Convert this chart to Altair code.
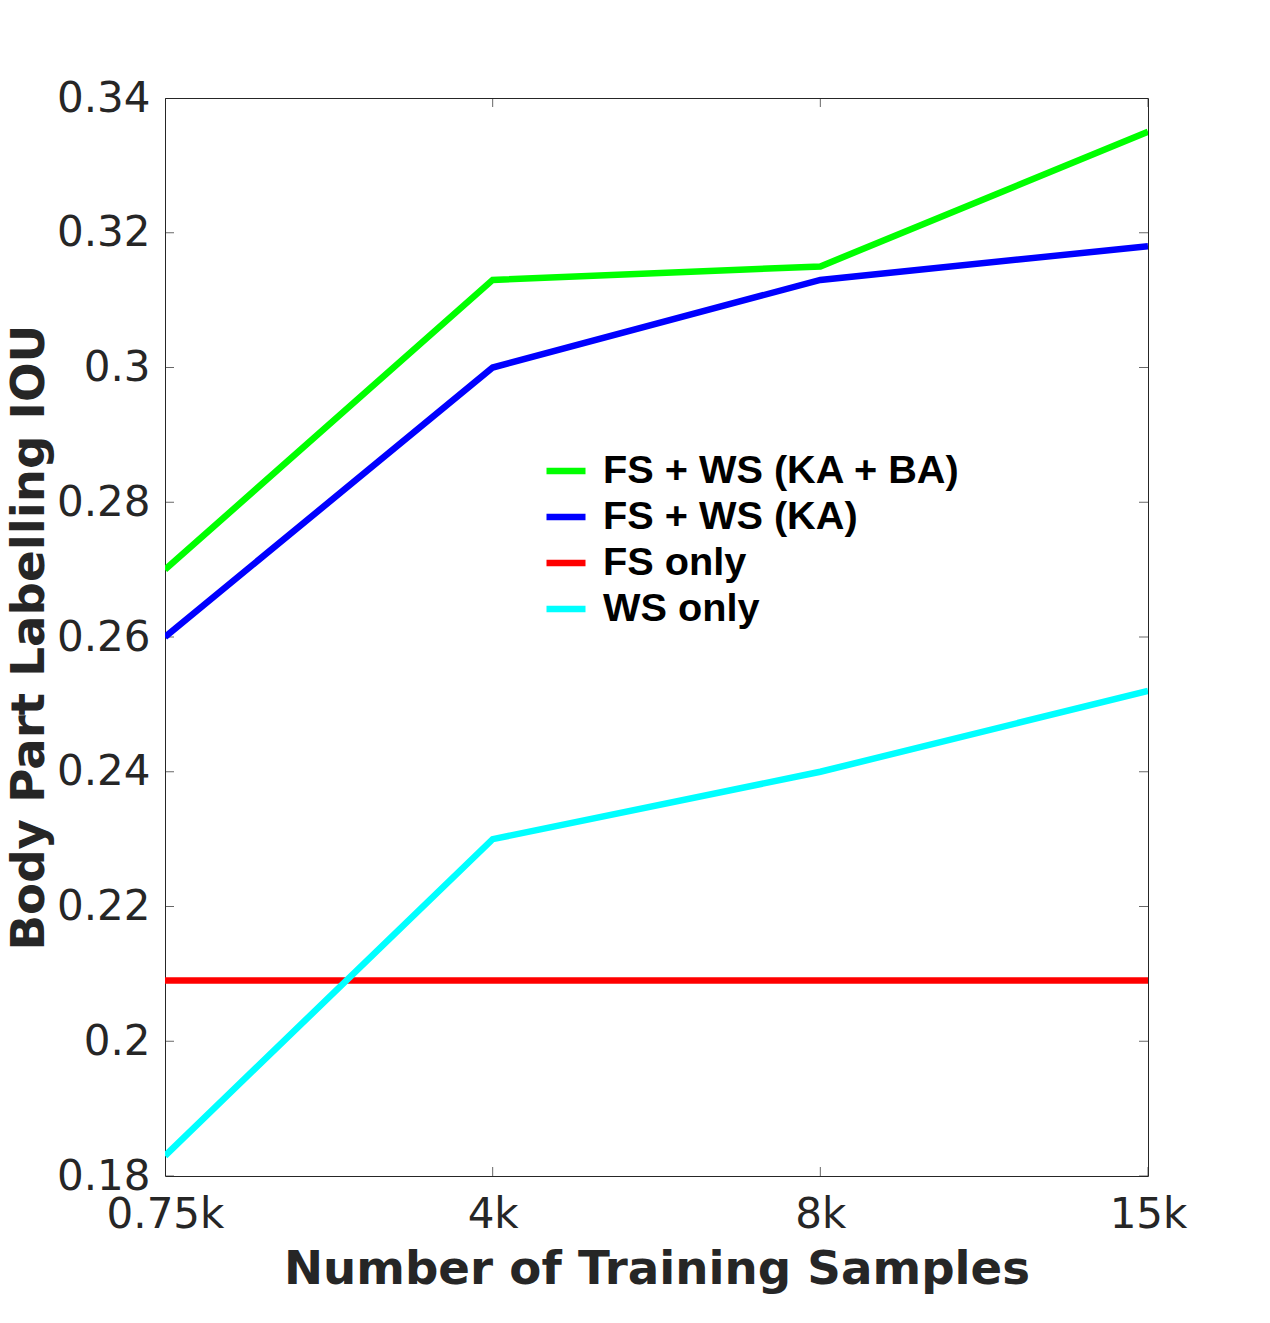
import altair as alt
import pandas as pd

x_labels = ["0.75k", "4k", "8k", "15k"]
series_names = ["FS + WS (KA + BA)", "FS + WS (KA)", "FS only", "WS only"]
series_colors = ["#00ff00", "#0000ff", "#ff0000", "#00ffff"]
ka_ba = [0.270, 0.313, 0.315, 0.335]
ka = [0.260, 0.300, 0.313, 0.318]
fs_only = [0.209, 0.209, 0.209, 0.209]
ws_only = [0.183, 0.230, 0.240, 0.252]
y_ticks = [0.18, 0.20, 0.22, 0.24, 0.26, 0.28, 0.30, 0.32, 0.34]

rows = []
for name, vals in zip(series_names, [ka_ba, ka, fs_only, ws_only]):
    for i, (x, v) in enumerate(zip(x_labels, vals)):
        rows.append({"x": x, "y": v, "series": name, "order": i})
df = pd.DataFrame(rows)

side_ticks = pd.DataFrame(
    [{"x": x_labels[0], "y": v} for v in y_ticks] + [{"x": x_labels[-1], "y": v} for v in y_ticks]
)
tb_ticks = pd.DataFrame(
    [{"x": x, "y": y_ticks[0]} for x in x_labels] + [{"x": x, "y": y_ticks[-1]} for x in x_labels]
)

AX = "#262626"
xscale = alt.Scale(type="point", domain=x_labels, padding=0)
yscale = alt.Scale(domain=[0.18, 0.34], nice=False, zero=False)

xaxis = alt.Axis(
    title="Number of Training Samples", labelAngle=0, labelAlign="center", labelBaseline="top",
    ticks=False, domain=False, grid=False,
    labelFont="DejaVu Sans", labelFontSize=42, labelColor=AX, labelPadding=18,
    titleFont="DejaVu Sans", titleFontSize=46.7, titleFontWeight="bold", titleColor=AX,
    titlePadding=11, labelOverlap=False,
)
yaxis = alt.Axis(
    title="Body Part Labelling IOU", values=y_ticks, labelExpr="format(datum.value, '.2~f')",
    ticks=False, domain=False, grid=False,
    labelFont="DejaVu Sans", labelFontSize=42, labelColor=AX, labelPadding=15,
    titleFont="DejaVu Sans", titleFontSize=46.7, titleFontWeight="bold", titleColor=AX,
    titlePadding=3, labelOverlap=False,
)

lines = alt.Chart(df).mark_line(strokeWidth=6.5, clip=True).encode(
    x=alt.X("x:N", scale=xscale, sort=x_labels, axis=xaxis),
    y=alt.Y("y:Q", scale=yscale, axis=yaxis),
    color=alt.Color(
        "series:N",
        scale=alt.Scale(domain=series_names, range=series_colors),
        legend=alt.Legend(
            title=None, orient="none", legendX=378, legendY=350,
            symbolType="stroke", symbolStrokeWidth=6.5, symbolSize=1521,
            labelFont="Liberation Sans", labelFontSize=39.7, labelFontWeight="bold",
            labelColor="black", labelOffset=14, rowPadding=3, labelLimit=600,
        ),
    ),
    order="order:Q",
)

side = alt.Chart(side_ticks).mark_tick(
    orient="horizontal", size=18, thickness=1, color=AX, clip=True
).encode(
    x=alt.X("x:N", scale=xscale, sort=x_labels),
    y=alt.Y("y:Q", scale=yscale),
)

tb = alt.Chart(tb_ticks).mark_tick(
    orient="vertical", size=18, thickness=1, color=AX, clip=True
).encode(
    x=alt.X("x:N", scale=xscale, sort=x_labels),
    y=alt.Y("y:Q", scale=yscale),
)

chart = alt.layer(side, tb, lines).properties(
    width=983, height=1078,
    autosize=alt.AutoSizeParams(type="none"),
    padding={"left": 157, "top": 90, "right": 114, "bottom": 139},
    background="white",
).configure_view(stroke=AX, strokeWidth=1)

chart.save("out.html", embed_options={"renderer": "svg", "actions": False})
